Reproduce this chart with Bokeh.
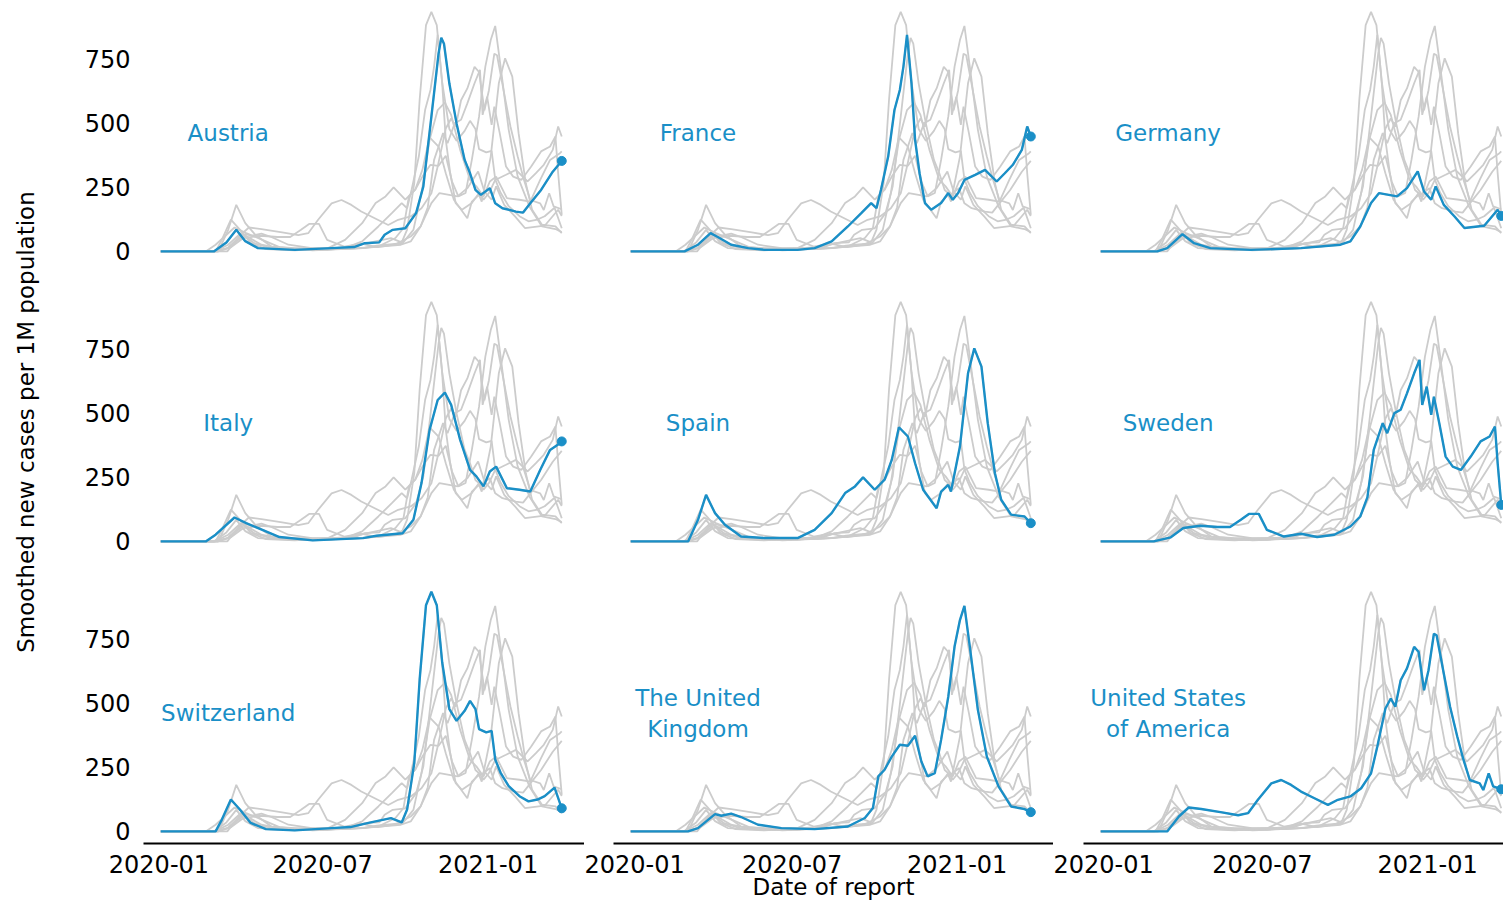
import numpy as np
from bokeh.plotting import figure
from bokeh.layouts import column, row
from bokeh.models import Range1d, FixedTicker
from bokeh.core.properties import value
from bokeh.embed import file_html
from bokeh.resources import INLINE

# ---------------- data (x = days since 2020-01-01, y = smoothed new cases per 1M) ----------------
austria_days = [2, 61, 75, 86, 96, 110, 151, 192, 217, 229, 245, 251, 260, 274, 286, 294, 303, 311, 314, 317,
                323, 331, 340, 346, 352, 358, 368, 374, 382, 397, 405, 413, 425, 438, 448]
austria_vals = [0, 0, 35, 84, 40, 13, 6, 13, 17, 32, 35, 65, 84, 90, 149, 252, 524, 770, 831, 808,
                653, 498, 356, 304, 239, 220, 246, 187, 168, 155, 151, 187, 239, 310, 352]

france_days = [2, 62, 77, 91, 99, 114, 133, 151, 188, 207, 226, 244, 259, 270, 276, 281, 289, 296, 302, 306,
               310, 315, 319, 324, 330, 337, 348, 356, 361, 367, 374, 386, 397, 410, 419, 428, 438, 444, 448]
france_vals = [0, 0, 26, 71, 56, 26, 13, 6, 6, 13, 39, 97, 149, 188, 168, 240, 369, 550, 628, 719,
               842, 654, 434, 304, 188, 162, 188, 227, 201, 227, 278, 298, 317, 272, 304, 337, 395, 486, 447]

germany_days = [2, 65, 76, 93, 106, 124, 169, 225, 269, 280, 291, 303, 312, 332, 343, 355, 362, 370, 375, 384,
                396, 407, 429, 444, 448]
germany_vals = [0, 0, 13, 67, 32, 13, 6, 13, 26, 39, 97, 188, 227, 214, 246, 311, 233, 201, 253, 181,
                136, 91, 100, 162, 138]

italy_days = [2, 52, 63, 84, 97, 115, 134, 171, 227, 242, 271, 283, 292, 301, 310, 318, 325, 335, 346, 353,
              361, 368, 375, 387, 401, 413, 424, 435, 446, 448]
italy_vals = [0, 0, 26, 93, 71, 45, 17, 4, 13, 22, 32, 84, 227, 434, 550, 579, 531, 395, 278, 253,
              214, 272, 291, 207, 201, 194, 278, 356, 382, 389]

spain_days = [2, 66, 77, 86, 96, 107, 125, 151, 188, 207, 226, 241, 252, 261, 274, 285, 293, 301, 311, 319,
              328, 343, 348, 356, 359, 369, 378, 385, 393, 400, 408, 415, 426, 441, 448]
spain_vals = [0, 0, 84, 181, 110, 65, 19, 13, 13, 45, 110, 188, 214, 249, 201, 240, 317, 444, 408, 304,
              201, 129, 194, 220, 194, 369, 654, 751, 680, 460, 265, 162, 104, 97, 71]

sweden_days = [2, 61, 80, 94, 113, 132, 146, 158, 167, 178, 187, 206, 225, 243, 262, 280, 291, 299, 306, 316,
               321, 329, 336, 343, 351, 357, 360, 365, 370, 373, 379, 386, 394, 403, 414, 425, 435, 441, 444, 448]
sweden_vals = [0, 0, 16, 52, 61, 56, 56, 84, 107, 107, 45, 19, 30, 17, 26, 58, 97, 172, 356, 460,
               421, 499, 512, 576, 654, 706, 531, 602, 492, 563, 460, 330, 291, 278, 330, 389, 408, 447, 304, 142]

switzerland_days = [2, 63, 70, 80, 90, 102, 119, 151, 192, 213, 233, 258, 270, 276, 284, 290, 297, 303, 309, 315,
                    323, 331, 340, 346, 352, 356, 364, 370, 374, 380, 389, 401, 411, 421, 429, 440, 448]
switzerland_vals = [0, 0, 46, 124, 85, 33, 9, 4, 13, 17, 33, 52, 35, 85, 267, 593, 880, 932, 880, 658,
                    476, 430, 469, 508, 476, 398, 385, 391, 280, 228, 176, 137, 117, 124, 137, 170, 90]

uk_days = [2, 66, 77, 96, 103, 114, 125, 144, 170, 207, 244, 263, 272, 278, 285, 293, 302, 311, 319, 326,
           333, 341, 348, 356, 363, 369, 374, 380, 389, 399, 412, 426, 441, 448]
uk_vals = [0, 0, 13, 67, 61, 69, 56, 26, 13, 9, 19, 52, 91, 214, 240, 291, 337, 333, 372, 272,
           214, 227, 356, 524, 719, 822, 877, 719, 473, 291, 175, 97, 87, 75]

usa_days = [2, 76, 89, 100, 114, 137, 155, 166, 177, 192, 203, 214, 225, 240, 255, 266, 280, 292, 303, 310,
            319, 325, 330, 336, 343, 351, 356, 362, 367, 373, 376, 384, 391, 399, 406, 413, 424, 428, 434, 439, 448]
usa_vals = [0, 0, 58, 93, 87, 74, 63, 71, 123, 187, 200, 181, 155, 129, 103, 123, 136, 168, 226, 330,
            478, 517, 485, 588, 634, 718, 698, 549, 627, 769, 763, 614, 485, 369, 278, 200, 187, 161, 226, 175, 164]

country_names = ["Austria", "France", "Germany", "Italy", "Spain", "Sweden",
                 "Switzerland", "The United\nKingdom", "United States\nof America"]
country_days = [austria_days, france_days, germany_days, italy_days, spain_days, sweden_days,
                switzerland_days, uk_days, usa_days]
country_vals = [austria_vals, france_vals, germany_vals, italy_vals, spain_vals, sweden_vals,
                switzerland_vals, uk_vals, usa_vals]

tick_days = [0, 182, 366]
tick_labels = ["2020-01", "2020-07", "2021-01"]
y_ticks = [0, 250, 500, 750]
y_title = "Smoothed new cases per 1M population"
x_title = "Date of report"

# ---------------- styling / layout ----------------
BLUE = "#1a8fc7"
GREY = "#cccccc"
FONT = "DejaVu Sans"
FS_TICK = "24px"
FS_NAME = "23px"
FS_TITLE = "23px"

label_w = 45
frame_w = [441, 440, 420]
border_left = [98, 29, 30]
frame_h = 263
border_bottom = [27, 27, 62]
total_h = sum(frame_h + b for b in border_bottom)
x_start = -17.2
x_end = [473.3, 473.3, 450.5]
y_lo, y_hi = -47, 976
label_day = 77
label_val = 460

figs = []
for i, name in enumerate(country_names):
    r, c = divmod(i, 3)
    p = figure(width=border_left[c] + frame_w[c], height=frame_h + border_bottom[r],
               x_range=Range1d(x_start, x_end[c]), y_range=Range1d(y_lo, y_hi),
               output_backend="svg", toolbar_location=None,
               x_axis_location="below" if r == 2 else None,
               y_axis_location="left" if c == 0 else None,
               min_border_left=border_left[c], min_border_right=0,
               min_border_top=0, min_border_bottom=border_bottom[r])
    p.outline_line_color = None
    p.xgrid.visible = False
    p.ygrid.visible = False

    for d, v in zip(country_days, country_vals):
        p.line(x=d, y=v, line_color=GREY, line_width=1.8)
    p.line(x=country_days[i], y=country_vals[i], line_color=BLUE, line_width=2.4)
    p.scatter(x=[country_days[i][-1]], y=[country_vals[i][-1]], size=9, color=BLUE)

    p.text(x=[label_day], y=[label_val], text=[name], text_align="center", text_baseline="middle",
           text_font=value(FONT), text_font_size=FS_NAME, text_color=BLUE, text_line_height=1.2)

    if c == 0:
        ax = p.yaxis[0]
        ax.ticker = FixedTicker(ticks=y_ticks)
        ax.axis_line_color = None
        ax.major_tick_line_color = None
        ax.minor_tick_line_color = None
        ax.major_tick_out = 0
        ax.major_tick_in = 0
        ax.minor_tick_out = 0
        ax.major_label_standoff = 13
        ax.major_label_text_font = FONT
        ax.major_label_text_font_size = FS_TICK
        ax.major_label_text_color = "black"
    if r == 2:
        ax = p.xaxis[0]
        ax.ticker = FixedTicker(ticks=tick_days)
        ax.major_label_overrides = {d: l for d, l in zip(tick_days, tick_labels)}
        ax.axis_line_color = "black"
        ax.axis_line_width = 2
        ax.major_tick_line_color = None
        ax.minor_tick_line_color = None
        ax.major_tick_out = 0
        ax.major_tick_in = 0
        ax.minor_tick_out = 0
        ax.major_label_standoff = 11
        ax.major_label_text_font = FONT
        ax.major_label_text_font_size = FS_TICK
        ax.major_label_text_color = "black"
        if c == 1:
            ax.axis_label = x_title
            ax.axis_label_text_font = FONT
            ax.axis_label_text_font_size = FS_TITLE
            ax.axis_label_text_font_style = "normal"
            ax.axis_label_text_color = "black"
            ax.axis_label_standoff = -2
    figs.append(p)

# shared y title in its own strip spanning all rows
lab = figure(width=label_w, height=total_h, x_range=Range1d(0, label_w), y_range=Range1d(0, total_h),
             output_backend="svg", toolbar_location=None, x_axis_location=None, y_axis_location=None,
             min_border_left=0, min_border_right=0, min_border_top=0, min_border_bottom=0)
lab.outline_line_color = None
lab.xgrid.visible = False
lab.ygrid.visible = False
mid_row_center = total_h - (frame_h + border_bottom[0] + frame_h / 2)
lab.text(x=[25], y=[mid_row_center], text=[y_title], angle=np.pi / 2, text_align="center",
         text_baseline="middle", text_font=value(FONT), text_font_size=FS_TITLE, text_color="black")

layout = row(lab, column(row(*figs[0:3]), row(*figs[3:6]), row(*figs[6:9])))
open("out.html", "w").write(file_html(layout, INLINE))
